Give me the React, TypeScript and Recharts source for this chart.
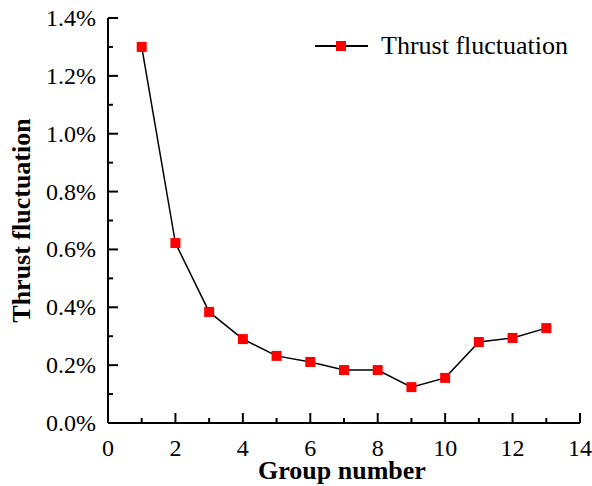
import { LineChart, Line, XAxis, YAxis, Legend, Label } from 'recharts';

const groups = [1, 2, 3, 4, 5, 6, 7, 8, 9, 10, 11, 12, 13];
const fluctuation = [1.3, 0.622, 0.384, 0.29, 0.232, 0.211, 0.183, 0.183, 0.124, 0.156, 0.28, 0.294, 0.328];
const xTicks = [0, 1, 2, 3, 4, 5, 6, 7, 8, 9, 10, 11, 12, 13, 14];
const xLabelled = [0, 2, 4, 6, 8, 10, 12, 14];
const yTicks = [0, 0.1, 0.2, 0.3, 0.4, 0.5, 0.6, 0.7, 0.8, 0.9, 1.0, 1.1, 1.2, 1.3, 1.4];
const yLabelled = [0, 0.2, 0.4, 0.6, 0.8, 1.0, 1.2, 1.4];

const data = groups.map((g, i) => ({ group: g, value: fluctuation[i] }));

const FONT = '"Liberation Serif", "Times New Roman", serif';

const isLabelled = (list: number[], v: number) => list.some((t) => Math.abs(t - v) < 1e-6);

const XTick = ({ x, y, payload }: any) => {
  const major = isLabelled(xLabelled, payload.value);
  return (
    <g>
      <line x1={x} x2={x} y1={y} y2={y - (major ? 10 : 5)} stroke="#000" strokeWidth={2} />
      {major && (
        <text x={x} y={y + 33} textAnchor="middle" fontSize={24} fontFamily={FONT} fill="#000">
          {payload.value}
        </text>
      )}
    </g>
  );
};

const YTick = ({ x, y, payload }: any) => {
  const major = isLabelled(yLabelled, payload.value);
  return (
    <g>
      <line x1={x} x2={x + (major ? 10 : 5)} y1={y} y2={y} stroke="#000" strokeWidth={2} />
      {major && (
        <text x={x - 12} y={y + 8} textAnchor="end" fontSize={24} fontFamily={FONT} fill="#000">
          {`${payload.value.toFixed(1)}%`}
        </text>
      )}
    </g>
  );
};

const SquareDot = ({ cx, cy }: any) => (
  <rect x={cx - 5} y={cy - 5} width={10} height={10} fill="#ff0000" />
);

const LegendContent = () => (
  <div style={{ display: 'flex', alignItems: 'center', fontFamily: FONT, fontSize: 26, color: '#000' }}>
    <svg width={55} height={12} style={{ marginRight: 11 }}>
      <line x1={0} x2={53} y1={6} y2={6} stroke="#000" strokeWidth={2} />
      <rect x={21} y={1} width={10} height={10} fill="#ff0000" />
    </svg>
    <span>Thrust fluctuation</span>
  </div>
);

export default function App() {
  return (
    <div style={{ position: 'fixed', left: 0, top: 0, background: '#fff' }}>
      <LineChart width={592} height={486} data={data} margin={{ top: 18, right: 12, bottom: 0, left: 0 }}>
        <XAxis
          dataKey="group"
          type="number"
          domain={[0, 14]}
          ticks={xTicks}
          interval={0}
          height={63}
          tickSize={0}
          tickMargin={0}
          tickLine={false}
          tick={<XTick />}
          axisLine={{ stroke: '#000', strokeWidth: 2 }}
        >
          <Label
            content={({ viewBox }: any) => (
              <text
                x={viewBox.x + viewBox.width / 2 - 2}
                y={viewBox.y + 56}
                textAnchor="middle"
                fontSize={26}
                fontWeight="bold"
                fontFamily={FONT}
                fill="#000"
              >
                Group number
              </text>
            )}
          />
        </XAxis>
        <XAxis xAxisId="top" orientation="top" type="number" domain={[0, 14]} height={0} tick={false} tickLine={false} axisLine={{ stroke: '#000', strokeWidth: 2 }} />
        <YAxis
          type="number"
          domain={[0, 1.4]}
          ticks={yTicks}
          interval={0}
          width={108}
          tickSize={0}
          tickMargin={0}
          tickLine={false}
          tick={<YTick />}
          axisLine={{ stroke: '#000', strokeWidth: 2 }}
        >
          <Label
            content={({ viewBox }: any) => {
              const cx = viewBox.x + 30;
              const cy = viewBox.y + viewBox.height / 2;
              return (
                <text
                  x={cx}
                  y={cy}
                  transform={`rotate(-90 ${cx} ${cy})`}
                  textAnchor="middle"
                  fontSize={26}
                  fontWeight="bold"
                  fontFamily={FONT}
                  fill="#000"
                >
                  Thrust fluctuation
                </text>
              );
            }}
          />
        </YAxis>
        <YAxis yAxisId="right" orientation="right" type="number" domain={[0, 1.4]} width={0} tick={false} tickLine={false} axisLine={{ stroke: '#000', strokeWidth: 2 }} />
        <Legend
          layout="vertical"
          verticalAlign="middle"
          align="center"
          content={<LegendContent />}
          wrapperStyle={{ top: 31, left: 315, width: 'auto' }}
        />
        <Line
          dataKey="value"
          stroke="#000"
          strokeWidth={1.5}
          dot={<SquareDot />}
          activeDot={false}
          isAnimationActive={false}
        />
      </LineChart>
    </div>
  );
}
